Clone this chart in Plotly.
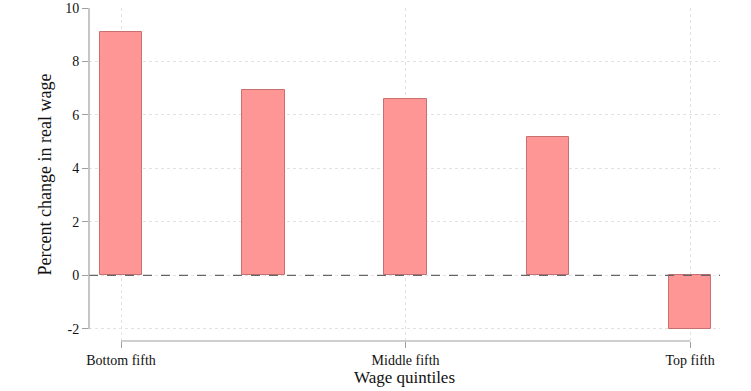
import plotly.graph_objects as go

positions = [1, 2, 3, 4, 5]
values = [9.10, 6.94, 6.58, 5.19, -2.01]
tick_vals = [1, 3, 5]
tick_text = ["Bottom fifth", "Middle fifth", "Top fifth"]
y_ticks = [-2, 0, 2, 4, 6, 8, 10]
y_tick_text = ["-2", "0", "2", "4", "6", "8", "10"]

FONT = "Liberation Serif, Times New Roman, serif"

fig = go.Figure()
fig.add_trace(go.Bar(
    x=positions, y=values, width=0.3,
    marker=dict(color="#ff9696", line=dict(color="#c87070", width=1)),
    showlegend=False, hoverinfo="skip",
))

# zero reference line
fig.add_hline(y=0, line=dict(color="#666666", width=1.2, dash="dash"), layer="above")
# Stata-style axis lines spanning only the data range
fig.add_shape(type="line", xref="paper", yref="y", x0=0, x1=0, y0=-2, y1=10,
              line=dict(color="#a0a0a0", width=1.2))
fig.add_shape(type="line", xref="x", yref="paper", x0=1, x1=5, y0=0, y1=0,
              line=dict(color="#a0a0a0", width=1.2))

fig.update_layout(
    width=751, height=391,
    margin=dict(l=89, r=31, t=8, b=50),
    plot_bgcolor="white", paper_bgcolor="white",
    font=dict(family=FONT, size=14, color="#111111"),
    bargap=0,
)
fig.update_xaxes(
    range=[0.775, 5.21], tickmode="array", tickvals=tick_vals, ticktext=tick_text,
    ticks="outside", ticklen=6, tickcolor="#a0a0a0", showline=False,
    showgrid=True, gridcolor="#e2e2e2", griddash="dot", zeroline=False,
    title=dict(text="Wage quintiles", font=dict(size=17), standoff=4),
    tickfont=dict(size=14), ticklabeloverflow="allow", automargin=False,
)
fig.update_yaxes(
    range=[-2.45, 10.0], tickmode="array", tickvals=y_ticks, ticktext=y_tick_text,
    ticks="outside", ticklen=6, tickcolor="#a0a0a0", showline=False,
    showgrid=True, gridcolor="#e2e2e2", griddash="dot", zeroline=False,
    title=dict(text="Percent change in real wage", font=dict(size=18), standoff=8),
    tickfont=dict(size=14), ticklabeloverflow="allow", automargin=False,
)

fig.write_html("out.html")
